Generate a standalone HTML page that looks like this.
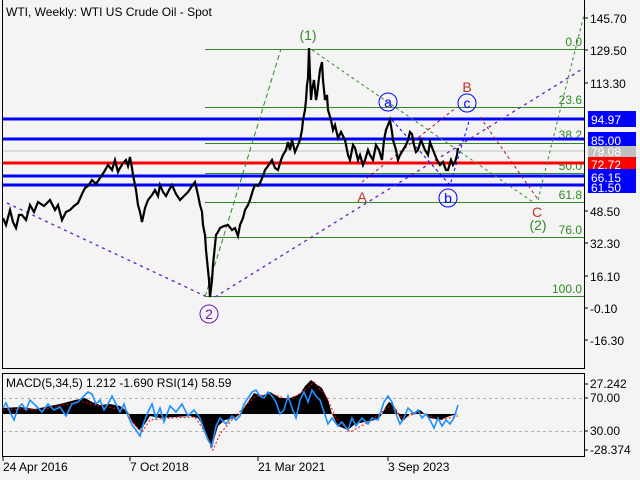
<!DOCTYPE html>
<html><head><meta charset="utf-8"><style>
body{margin:0;background:#f4f4f4;}
svg{display:block;font-family:"Liberation Sans",sans-serif;}
</style></head><body>
<svg width="640" height="480" xmlns="http://www.w3.org/2000/svg">
<rect width="640" height="480" fill="#f4f4f4"/>
<line x1="2.5" y1="0" x2="2.5" y2="368" stroke="#000"/>
<line x1="584.5" y1="0" x2="584.5" y2="368" stroke="#000"/>
<line x1="2" y1="368.5" x2="585" y2="368.5" stroke="#000"/>
<rect x="2.5" y="373.5" width="582" height="83" fill="none" stroke="#000"/>
<text x="6" y="16" font-size="12">WTI, Weekly:  WTI US Crude Oil - Spot</text>

<g stroke="#2e8b22" stroke-width="1">
<line x1="205" y1="49.5" x2="584" y2="49.5"/>
<line x1="205" y1="107.5" x2="584" y2="107.5"/>
<line x1="205" y1="143.5" x2="584" y2="143.5"/>
<line x1="205" y1="173.5" x2="584" y2="173.5"/>
<line x1="205" y1="202.5" x2="584" y2="202.5"/>
<line x1="205" y1="237.5" x2="584" y2="237.5"/>
<line x1="205" y1="296.5" x2="584" y2="296.5"/>
</g>
<g fill="#2e8b22" font-size="12" text-anchor="end">
<text x="582" y="46">0.0</text><text x="582" y="104">23.6</text><text x="582" y="139">38.2</text>
<text x="582" y="170">50.0</text><text x="582" y="199">61.8</text><text x="582" y="234">76.0</text><text x="582" y="293">100.0</text>
</g>
<line x1="3" y1="151" x2="584" y2="151" stroke="#c0c0c0"/>
<g stroke-width="3">
<line x1="3" y1="119" x2="584" y2="119" stroke="#0000ff"/>
<line x1="3" y1="139" x2="584" y2="139" stroke="#0000ff"/>
<line x1="3" y1="163" x2="584" y2="163" stroke="#ff0000"/>
<line x1="3" y1="176" x2="584" y2="176" stroke="#0000ff"/>
<line x1="3" y1="185" x2="584" y2="185" stroke="#0000ff"/>
</g>
<line x1="205" y1="297" x2="281" y2="49" stroke="#2e8b22" stroke-dasharray="5,3"/>
<polyline points="7,203 205,296" fill="none" stroke="#6a1bb0" stroke-dasharray="3,4" stroke-width="1.3"/>
<polyline points="215,297 584,68" fill="none" stroke="#6a1bb0" stroke-dasharray="3,4" stroke-width="1.3"/>
<polyline points="312,50 533,202" fill="none" stroke="#2e8b22" stroke-dasharray="3,3"/>
<path d="M538,200 Q560,110 584,15" fill="none" stroke="#2e8b22" stroke-dasharray="3,3"/>
<polyline points="392,120 450,185 470,118" fill="none" stroke="#0000ff" stroke-dasharray="3,3"/>
<polyline points="362,182 457,107" fill="none" stroke="#a01818" stroke-dasharray="3,3"/>
<polyline points="480,117 537,198" fill="none" stroke="#a01818" stroke-dasharray="3,3"/>

<polyline fill="none" stroke="#000" stroke-width="2.2" points="3,218 6,225 10,210 13,222 16,228 19,215 22,215 26,220 30,205 34,212 38,202 44,206 50,200 55,210 58,205 62,220 66,212 70,210 74,206 78,203 82,194 85,188 88,186 92,180 96,184 100,178 104,172 108,165 112,170 115,160 118,172 120,168 123,163 126,160 128,166 130,157 132,168 133,175 136,190 138,205 140,212 142,222 145,208 148,200 152,195 155,190 158,196 160,185 163,192 166,196 169,190 172,185 176,194 180,200 184,196 188,192 192,186 195,182 198,195 200,205 202,212 203,225 205,235 206,250 207,260 209,280 210,297 212,280 213,265 215,245 216,235 218,232 220,228 224,226 228,225 232,230 235,228 238,236 240,225 243,218 245,210 248,205 250,200 253,190 255,185 258,186 260,183 263,176 265,170 268,166 272,160 275,168 278,170 281,160 283,155 286,150 288,142 290,150 292,140 295,152 298,145 300,140 302,130 303,120 305,110 306,100 307,85 308,78 309,48 310,75 311,100 312,90 314,80 316,100 317,95 319,78 320,70 322,62 323,80 325,100 327,95 328,110 331,120 333,130 335,125 338,138 341,132 345,140 348,155 350,160 353,145 355,148 358,160 360,155 363,165 365,160 368,150 370,155 373,160 376,145 379,150 382,160 384,140 386,130 388,125 390,120 392,132 393,140 396,150 398,160 400,155 403,150 406,145 408,140 410,132 412,134 414,145 416,152 418,150 421,140 425,150 428,155 430,142 433,150 435,155 437,160 440,165 443,162 446,170 448,170 451,160 453,165 455,162 457,155 458,148"/>

<g font-size="14" text-anchor="middle">
<text x="308" y="40" fill="#2e8b22">(1)</text>
<text x="538" y="230" fill="#2e8b22">(2)</text>
<text x="362" y="202" fill="#c03030">A</text>
<text x="467" y="92" fill="#c03030">B</text>
<text x="537" y="217" fill="#c03030">C</text>
</g>
<g fill="none" stroke-width="1">
<circle cx="209" cy="314" r="9" stroke="#6a1bb0"/>
<circle cx="388" cy="102" r="9" stroke="#0000ff"/>
<circle cx="448" cy="198" r="9" stroke="#0000ff"/>
<circle cx="467" cy="103" r="9" stroke="#0000ff"/>
</g>
<g font-size="14" text-anchor="middle">
<text x="209" y="319" fill="#6a1bb0">2</text>
<text x="388" y="107" fill="#0000ff">a</text>
<text x="448" y="203" fill="#0000ff">b</text>
<text x="467" y="108" fill="#0000ff">c</text>
</g>

<g font-size="12" fill="#000">
<text x="590" y="23">145.70</text><text x="590" y="55">129.50</text><text x="590" y="88">113.30</text>
<text x="590" y="216">48.50</text><text x="590" y="248">32.30</text><text x="590" y="281">16.10</text>
<text x="590" y="313">-0.10</text><text x="590" y="345">-16.30</text>
</g>
<g stroke="#000">
<line x1="584" y1="18" x2="588" y2="18"/><line x1="584" y1="50" x2="588" y2="50"/><line x1="584" y1="83" x2="588" y2="83"/>
<line x1="584" y1="211" x2="588" y2="211"/><line x1="584" y1="243" x2="588" y2="243"/><line x1="584" y1="276" x2="588" y2="276"/>
<line x1="584" y1="308" x2="588" y2="308"/><line x1="584" y1="340" x2="588" y2="340"/>
</g>
<rect x="588" y="111" width="48" height="16" fill="#0000ff"/>
<rect x="588" y="132" width="48" height="16" fill="#0000ff"/>
<rect x="588" y="146" width="48" height="11" fill="#c0c0c0"/>
<rect x="588" y="157" width="48" height="14" fill="#ff0000"/>
<rect x="588" y="169" width="48" height="24" fill="#0000ff"/>
<g font-size="12" fill="#fff">
<text x="591" y="124">94.97</text><text x="591" y="145">85.00</text><text x="591" y="156">79.08</text>
<text x="591" y="169">72.72</text><text x="591" y="182">66.15</text><text x="591" y="192">61.50</text>
</g>

<line x1="3" y1="398.5" x2="584" y2="398.5" stroke="#b0b0b0" stroke-dasharray="3,3"/>
<line x1="3" y1="431.5" x2="584" y2="431.5" stroke="#b0b0b0" stroke-dasharray="3,3"/>
<polygon fill="#000" points="3,414 3,408 20,407 35,409 50,406 60,404 75,400 85,398 92,402 100,405 110,404 120,406 128,412 132,422 139,430 145,424 150,416 160,418 175,417 190,416 198,418 204,428 209,440 211,449 214,440 218,426 225,420 235,418 240,414 248,402 254,393 262,396 270,392 280,398 290,398 300,394 305,386 311,380 316,384 322,388 328,400 332,414 338,426 348,430 355,424 365,422 375,420 381,416 386,406 389,402 393,404 398,414 402,422 410,414 420,410 430,418 440,420 450,416 458,414"/>
<polyline fill="none" stroke="#ff0000" stroke-width="1" stroke-dasharray="2,2" points="3,410 20,409 40,410 60,406 80,401 100,406 125,410 135,425 142,432 150,420 170,418 195,417 205,432 213,450 220,434 232,420 245,406 256,396 272,394 290,400 308,388 314,382 326,396 336,418 350,432 365,424 385,410 392,404 402,418 420,412 440,420 458,416"/>
<polyline fill="none" stroke="#1e90ff" stroke-width="1.6" points="3,408 6,403 10,412 14,420 18,408 22,404 26,410 30,400 36,406 42,412 48,404 54,410 60,407 66,416 72,404 78,402 84,396 88,392 92,394 96,404 100,400 104,410 108,404 112,396 116,404 120,412 124,404 128,416 132,425 136,430 140,436 144,422 148,412 152,404 156,418 160,408 164,422 170,406 176,412 182,404 188,416 194,410 200,418 204,430 208,440 212,446 216,426 220,418 226,424 232,416 236,420 240,416 244,404 248,398 252,392 256,390 260,396 264,398 268,392 272,396 276,402 280,414 284,410 288,396 292,408 296,418 300,400 304,392 308,402 312,390 316,396 320,400 324,412 328,424 332,418 338,426 342,422 348,430 352,418 356,426 362,418 368,424 372,418 378,420 384,402 388,396 392,402 396,414 400,424 404,418 408,408 414,414 418,410 422,418 426,414 430,420 434,428 438,418 442,426 446,420 450,424 454,418 458,405"/>
<text x="6" y="387" font-size="12">MACD(5,34,5) 1.212 -1.690 RSI(14) 58.59</text>
<g font-size="12">
<text x="590" y="388">27.242</text><text x="590" y="402">70.00</text><text x="590" y="435">30.00</text><text x="590" y="454">-28.374</text>
<text x="3" y="471">24 Apr 2016</text><text x="130" y="471">7 Oct 2018</text><text x="258" y="471">21 Mar 2021</text><text x="388" y="471">3 Sep 2023</text>
</g>
<g stroke="#000">
<line x1="584" y1="384" x2="588" y2="384"/><line x1="584" y1="398" x2="588" y2="398"/><line x1="584" y1="431" x2="588" y2="431"/><line x1="584" y1="450" x2="588" y2="450"/>
<line x1="3" y1="456" x2="3" y2="461"/><line x1="130" y1="456" x2="130" y2="461"/><line x1="258" y1="456" x2="258" y2="461"/><line x1="388" y1="456" x2="388" y2="461"/>
</g>
</svg>
</body></html>
